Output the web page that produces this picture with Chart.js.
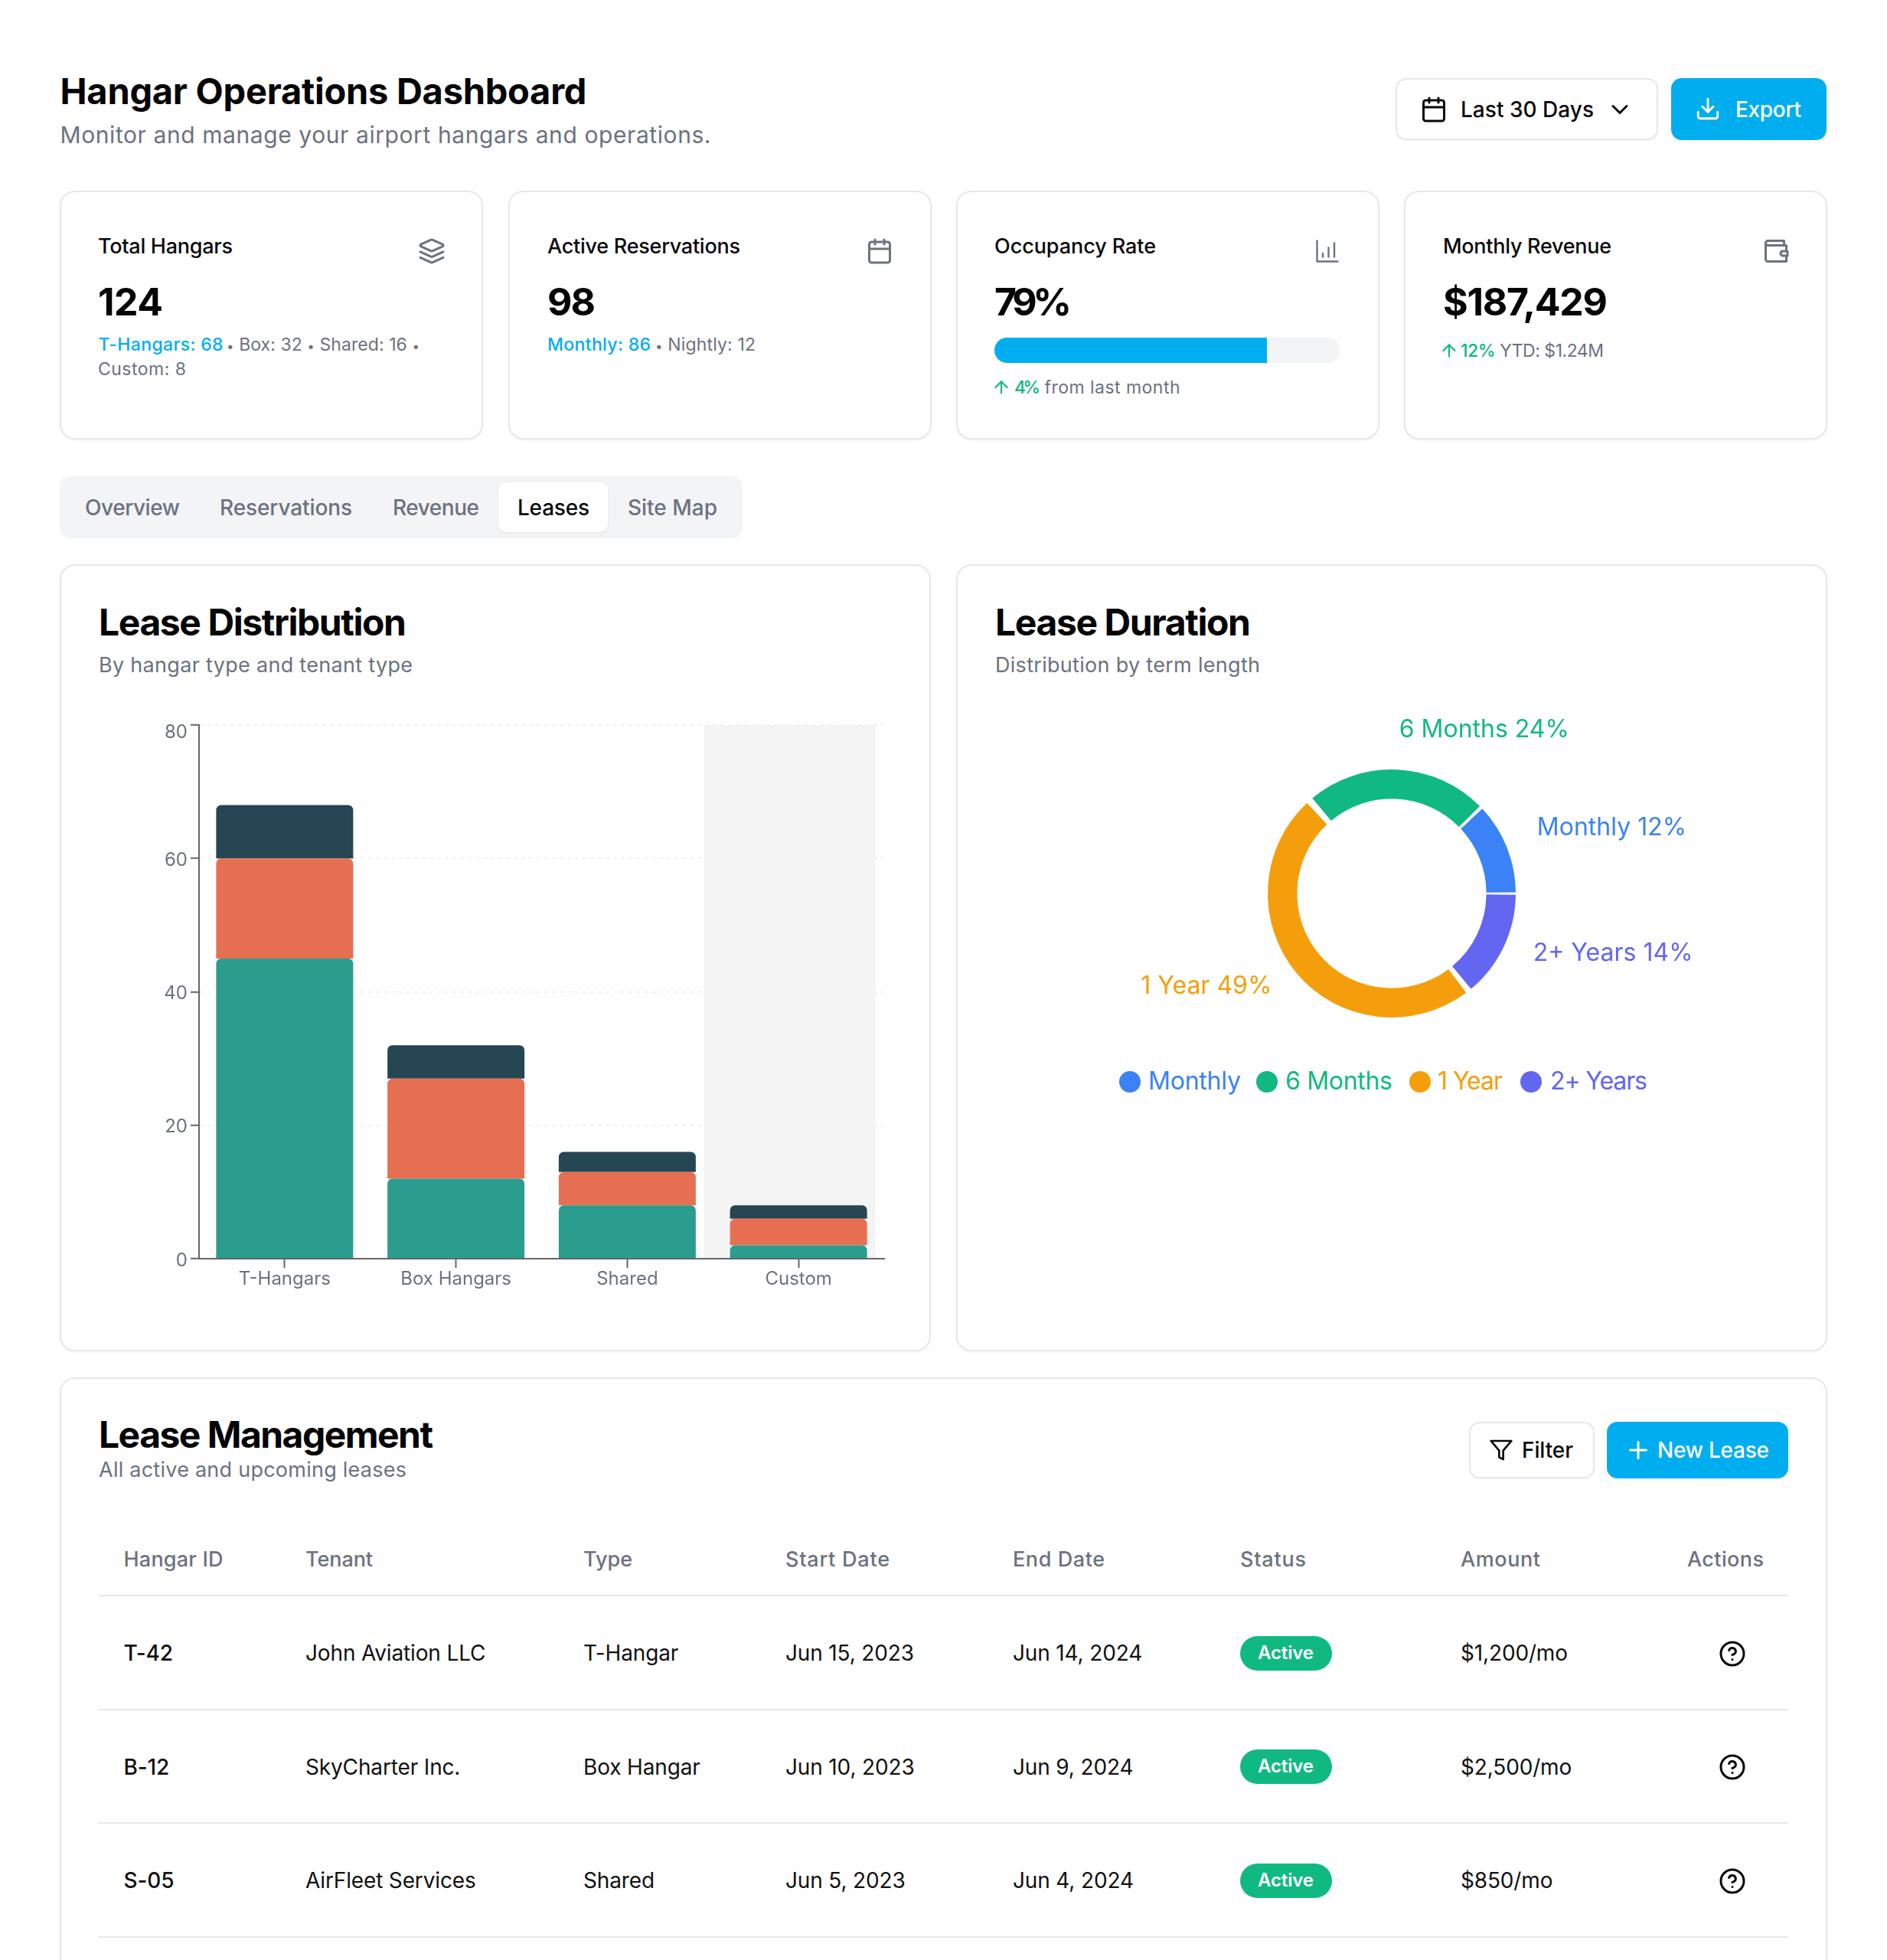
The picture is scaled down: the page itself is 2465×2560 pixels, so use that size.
<!DOCTYPE html>
<html>
<head>
<meta charset="utf-8">
<title>Hangar Operations Dashboard</title>
<script src="https://cdn.jsdelivr.net/npm/chart.js@4"></script>
<style>
    * { box-sizing: border-box; }
    html, body { margin: 0; padding: 0; background: #fff; }
    body { position: relative; width: 2465px; height: 2560px; overflow: hidden; font-family: Inter, sans-serif; color: #09090b; }
    .box { position: absolute; }
    .card { position: absolute; background: #fff; border: 2px solid #e7e8ea; border-radius: 20px; box-shadow: 0 1px 3px rgba(0,0,0,.06); }
    .btn { position: absolute; border-radius: 14px; }
    .btn.line { background: #fff; border: 2px solid #e7e8ea; box-shadow: 0 1px 2px rgba(0,0,0,.05); }
    .btn.blue { background: #00aeef; }
    .t { position: absolute; white-space: nowrap; line-height: 0; }
    .h1 { font-size: 47px; font-weight: 700; color: #050505; }
    .h2 { font-size: 48px; font-weight: 700; color: #050505; }
    .lead { font-size: 30px; color: #6b7280; }
    .sub { font-size: 27px; color: #6b7280; }
    .cardTitle { font-size: 27px; font-weight: 500; }
    .value { font-size: 50px; font-weight: 700; color: #050505; }
    .small { font-size: 23px; color: #6b7280; }
    .bullet { font-size: 17px; }
    .accent { color: #00aeef; font-weight: 500; }
    .up { color: #10b981; font-weight: 500; }
    .btnText { font-size: 28px; font-weight: 500; }
    .white { color: #fff; }
    .tab { font-size: 28px; font-weight: 500; color: #6b7280; }
    .tab.on { color: #09090b; }
    .th { font-size: 27px; font-weight: 500; color: #6b7280; }
    .td { font-size: 28px; color: #111; letter-spacing: -0.15px; }
    .td.id { font-weight: 500; }
    .badge { position: absolute; background: #10b981; border-radius: 23px; }
    .badgeText { font-size: 24px; font-weight: 600; color: #fff; }
    .rule { position: absolute; height: 2px; background: #e7e8ea; }
    .legendText { font-size: 32px; }
    .dot { position: absolute; width: 28px; height: 28px; border-radius: 50%; }
    canvas { position: absolute; }
</style>
</head>
<body>
<canvas id="leaseChart" width="1036" height="778" style="left:129px;top:922.5px;z-index:2"></canvas>
<canvas id="durationChart" width="800" height="480" style="left:1418px;top:926.6px;z-index:2"></canvas>

<script>
// Lease distribution (stacked bars)
const hangarTypes = ["T-Hangars", "Box Hangars", "Shared", "Custom"];
const corporateLeases = [45, 12, 8, 2];
const privateLeases = [15, 15, 5, 4];
const governmentLeases = [8, 5, 3, 2];
const leaseTicks = [0, 20, 40, 60, 80];
const highlightedType = "Custom";

// Lease duration (donut), percent of leases
const durationNames = ["Monthly", "6 Months", "1 Year", "2+ Years"];
const durationShare = [12, 24, 49, 14];
const durationColors = ["#3b82f6", "#10b981", "#f59e0b", "#6366f1"];

// Lease table
const tableHead = ["Hangar ID", "Tenant", "Type", "Start Date", "End Date", "Status", "Amount", "Actions"];
const hangarIds = ["T-42", "B-12", "S-05"];
const tenants = ["John Aviation LLC", "SkyCharter Inc.", "AirFleet Services"];
const leaseKinds = ["T-Hangar", "Box Hangar", "Shared"];
const startDates = ["Jun 15, 2023", "Jun 10, 2023", "Jun 5, 2023"];
const endDates = ["Jun 14, 2024", "Jun 9, 2024", "Jun 4, 2024"];
const amounts = ["$1,200/mo", "$2,500/mo", "$850/mo"];

/* ---------- page helpers ---------- */

const ICONS = {
    layers: '<path d="m12.83 2.18a2 2 0 0 0-1.66 0L2.6 6.08a1 1 0 0 0 0 1.83l8.58 3.91a2 2 0 0 0 1.66 0l8.58-3.9a1 1 0 0 0 0-1.83Z"/><path d="m22 17.65-9.17 4.16a2 2 0 0 1-1.66 0L2 17.65"/><path d="m22 12.65-9.17 4.16a2 2 0 0 1-1.66 0L2 12.65"/>',
    calendar: '<path d="M8 2v4"/><path d="M16 2v4"/><rect width="18" height="18" x="3" y="4" rx="2"/><path d="M3 10h18"/>',
    chart: '<path d="M3 3v18h18"/><path d="M13 17V9"/><path d="M18 17V5"/><path d="M8 17v-3"/>',
    wallet: '<path d="M21 12V7H5a2 2 0 0 1 0-4h14v4"/><path d="M3 5v14a2 2 0 0 0 2 2h16v-5"/><path d="M18 12a2 2 0 0 0 0 4h4v-4Z"/>',
    chevron: '<path d="m6 9 6 6 6-6"/>',
    download: '<path d="M21 15v4a2 2 0 0 1-2 2H5a2 2 0 0 1-2-2v-4"/><polyline points="7 10 12 15 17 10"/><line x1="12" x2="12" y1="15" y2="3"/>',
    filter: '<polygon points="22 3 2 3 10 12.46 10 19 14 21 14 12.46 22 3"/>',
    plus: '<path d="M5 12h14"/><path d="M12 5v14"/>',
    help: '<circle cx="12" cy="12" r="10"/><path d="M9.09 9a3 3 0 0 1 5.83 1c0 2-3 3-3 3"/><path d="M12 17h.01"/>',
    arrow: '<path d="m5 12 7-7 7 7"/><path d="M12 19V5"/>'
};

function box(cls, left, top, width, height, bg) {
    const el = document.createElement("div");
    el.className = cls;
    el.style.cssText = `left:${left}px;top:${top}px;width:${width}px;height:${height}px;` + (bg ? `background:${bg};` : "");
    document.body.appendChild(el);
    return el;
}

// x = left edge, y = baseline; width (optional) squeezes the text to the measured width
function put(x, y, html, cls, width) {
    const el = document.createElement("div");
    el.className = "t " + cls;
    el.innerHTML = html;
    document.body.appendChild(el);
    const size = parseFloat(getComputedStyle(el).fontSize);
    el.style.left = x + "px";
    el.style.top = (y - size * 0.364) + "px";
    if (width) {
        const extra = (width - el.getBoundingClientRect().width) / (el.textContent.length - 1);
        el.style.letterSpacing = extra + "px";
    }
    return el;
}

function icon(name, cx, cy, size, color, stroke) {
    const s = document.createElementNS("http://www.w3.org/2000/svg", "svg");
    s.setAttribute("viewBox", "0 0 24 24");
    s.setAttribute("fill", "none");
    s.setAttribute("stroke", color);
    s.setAttribute("stroke-width", stroke || 2);
    s.setAttribute("stroke-linecap", "round");
    s.setAttribute("stroke-linejoin", "round");
    s.style.cssText = `position:absolute;left:${cx - size / 2}px;top:${cy - size / 2}px;width:${size}px;height:${size}px;`;
    s.innerHTML = ICONS[name];
    document.body.appendChild(s);
}

const dot = '<span class="bullet">•</span>';

/* ---------- header ---------- */

put(78.5, 136, "Hangar Operations Dashboard", "h1", 688);
put(78.5, 187, "Monitor and manage your airport hangars and operations.", "lead", 850);

box("btn line", 1823, 102, 343, 81);
icon("calendar", 1873, 143, 36, "#09090b");
put(1908, 153, "Last 30 Days", "btnText", 174);
icon("chevron", 2116, 143, 36, "#09090b");

box("btn blue", 2183, 102, 203, 81);
icon("download", 2231, 142, 34, "#fff");
put(2267, 153, "Export", "btnText white", 86);

/* ---------- stat cards ---------- */

box("card", 78, 248.5, 553, 325);
box("card", 663.5, 248.5, 553, 325);
box("card", 1249, 248.5, 553, 325);
box("card", 1834, 248.5, 553, 325);

put(128, 332, "Total Hangars", "cardTitle", 176);
put(128, 412, "124", "value", 85);
put(128.5, 458, "T-Hangars: 68", "small accent", 163);
put(296, 458, `${dot} Box: 32 ${dot} Shared: 16 ${dot}`, "small", 252);
put(128, 490, "Custom: 8", "small", 115);
icon("layers", 563.5, 327.5, 36, "#6b7280");

put(715, 332, "Active Reservations", "cardTitle", 252);
put(715, 412, "98", "value", 63);
put(715, 458, "Monthly: 86", "small accent", 135);
put(856, 458, `${dot} Nightly: 12`, "small", 131);
icon("calendar", 1149, 327.5, 36, "#6b7280");

put(1299, 332, "Occupancy Rate", "cardTitle", 211);
put(1299, 412, "79%", "value", 101);
box("box", 1299, 441, 451, 33, "#f3f4f6").style.borderRadius = "17px";
box("box", 1299, 441, 356, 33, "#00aeef").style.borderRadius = "17px 0 0 17px";
icon("arrow", 1307.5, 506, 26, "#10b981");
put(1325, 514, "4%", "small up", 34);
put(1364.5, 514, "from last month", "small", 177);
icon("chart", 1734, 327.5, 36, "#6b7280", 1.6);

put(1885, 332, "Monthly Revenue", "cardTitle", 220);
put(1885, 412, "$187,429", "value", 215);
icon("arrow", 1893, 458, 26, "#10b981");
put(1908, 466, '<span class="up">12%</span> YTD: $1.24M', "small", 187);
icon("wallet", 2320, 327.5, 36, "#6b7280");

/* ---------- tabs ---------- */

box("box", 78, 622, 892, 81, "#f3f4f6").style.borderRadius = "14px";
const activeTab = box("box", 651, 630, 143, 65, "#fff");
activeTab.style.borderRadius = "10px";
activeTab.style.boxShadow = "0 1px 3px rgba(0,0,0,.08)";
put(111, 673.5, "Overview", "tab", 124);
put(287, 673.5, "Reservations", "tab", 173);
put(513, 673.5, "Revenue", "tab", 113);
put(676, 673.5, "Leases", "tab on", 94);
put(820, 673.5, "Site Map", "tab", 117);

/* ---------- chart cards ---------- */

box("card", 78, 736.5, 1138, 1028);
put(129, 830, "Lease Distribution", "h2", 402);
put(129, 879, "By hangar type and tenant type", "sub", 410);

box("card", 1249, 736.5, 1138, 1028);
put(1300, 830, "Lease Duration", "h2", 334);
put(1300, 879, "Distribution by term length", "sub", 346);

// legend for the donut
const legendDots = [1462, 1641, 1840.5, 1986];
const legendText = [1500, 1679, 1878, 2025];
const legendWidths = [121, 140, 85, 127];
durationNames.forEach((name, i) => {
    box("dot", legendDots[i], 1398.5, 28, 28, durationColors[i]);
    put(legendText[i], 1424, name, "legendText", legendWidths[i]).style.color = durationColors[i];
});

/* ---------- table card ---------- */

box("card", 78, 1799, 2309, 900);
put(129, 1891.5, "Lease Management", "h2", 437);
put(129, 1929.5, "All active and upcoming leases", "sub", 402);

box("btn line", 1919, 1857, 164, 74);
icon("filter", 1961, 1894, 32, "#09090b");
put(1988, 1904, "Filter", "btnText", 67);
box("btn blue", 2099, 1857, 237, 74);
icon("plus", 2140, 1894, 36, "#fff");
put(2165, 1904, "New Lease", "btnText white", 146);

const columnX = [161.5, 399, 762, 1026, 1323, 1620, 1908, 2204];
const headWidths = [130, 88, 64, 136, 120, 86, 104, 100];
tableHead.forEach((name, i) => put(columnX[i], 2046.5, name, "th", headWidths[i]));
box("rule", 128, 2082.5, 2208, 2);

hangarIds.forEach((id, i) => {
    const base = 2169.5 + i * 148.5;
    put(columnX[0], base, id, "td id");
    put(columnX[1], base, tenants[i], "td");
    put(columnX[2], base, leaseKinds[i], "td");
    put(columnX[3], base, startDates[i], "td");
    put(columnX[4], base, endDates[i], "td");
    box("badge", columnX[5], base - 33, 120, 45);
    put(columnX[5] + 23, base - 2, "Active", "badgeText", 73);
    put(columnX[6], base, amounts[i], "td");
    icon("help", 2263, base - 10, 36, "#09090b");
    box("rule", 128, base + 62, 2208, 2);
});

/* ---------- charts ---------- */

const axisColor = "#666";
const tickColor = "#6b7280";

// grey hover band behind the highlighted category
const hoverBand = {
    id: "hoverBand",
    beforeDatasetsDraw(chart) {
        const { ctx, scales: { x }, chartArea } = chart;
        const step = x.getPixelForValue(1) - x.getPixelForValue(0);
        const center = x.getPixelForValue(hangarTypes.indexOf(highlightedType));
        ctx.save();
        ctx.fillStyle = "#f4f4f4";
        ctx.fillRect(center - step / 2 - 11.5, chartArea.top, step, chartArea.height);
        ctx.restore();
    }
};

const topCorners = { topLeft: 6.5, topRight: 6.5, bottomLeft: 0, bottomRight: 0 };

new Chart(document.getElementById("leaseChart"), {
    type: "bar",
    data: {
        labels: hangarTypes,
        datasets: [
            { label: "Corporate", data: corporateLeases, backgroundColor: "#2a9d8f", borderRadius: topCorners },
            { label: "Private", data: privateLeases, backgroundColor: "#e76f51", borderRadius: topCorners },
            { label: "Government", data: governmentLeases, backgroundColor: "#264653", borderRadius: topCorners }
        ]
    },
    plugins: [hoverBand],
    options: {
        responsive: false,
        animation: false,
        layout: { padding: { top: 24, right: 10, left: 0, bottom: 0 } },
        datasets: { bar: { categoryPercentage: 0.8, barPercentage: 1 } },
        plugins: { legend: { display: false }, tooltip: { enabled: false } },
        scales: {
            x: {
                stacked: true,
                afterFit: (s) => { s.height = 57; },
                border: { color: axisColor, width: 2, z: 1 },
                grid: { offset: false, drawOnChartArea: false, tickLength: 12, tickColor: axisColor, tickWidth: 2 },
                ticks: { color: tickColor, padding: 0, maxRotation: 0, font: { family: "Inter", size: 24 } }
            },
            y: {
                stacked: true,
                min: 0,
                max: 80,
                afterFit: (s) => { s.width = 131; },
                afterBuildTicks: (s) => { s.ticks = leaseTicks.map((value) => ({ value })); },
                border: { color: axisColor, width: 2, dash: [5, 5], z: 1 },
                grid: { color: "#eeeeee", lineWidth: 1.6, tickLength: 11, tickColor: axisColor, tickWidth: 2, tickBorderDash: [] },
                ticks: {
                    color: tickColor,
                    padding: 4,
                    // an empty first line pushes the label down by half its line height,
                    // the top label sits further under its tick than the others
                    font: (ctx) => ({ family: "Inter", size: 24, lineHeight: ctx.tick && ctx.tick.value === 80 ? "20px" : "5px" }),
                    callback: (v) => ["", String(v)]
                }
            }
        }
    }
});

// labels outside the ring, placed from each slice's middle angle
const ringLabels = {
    id: "ringLabels",
    afterDatasetsDraw(chart) {
        const { ctx } = chart;
        const arcs = chart.getDatasetMeta(0).data;
        ctx.save();
        ctx.font = "32px Inter";
        ctx.textBaseline = "alphabetic";
        arcs.forEach((arc, i) => {
            const mid = (arc.startAngle + arc.endAngle) / 2;
            const r = arc.outerRadius + 46;
            const px = arc.x + Math.cos(mid) * r;
            const py = arc.y + Math.sin(mid) * r;
            ctx.fillStyle = chart.data.datasets[0].backgroundColor[i];
            ctx.textAlign = px > arc.x ? "left" : "right";
            ctx.fillText(`${chart.data.labels[i]} ${chart.data.datasets[0].data[i]}%`, px, py);
        });
        ctx.restore();
    }
};

// Chart.js sweeps clockwise, the reference sweeps the other way from 3 o'clock
new Chart(document.getElementById("durationChart"), {
    type: "doughnut",
    data: {
        labels: durationNames.slice().reverse(),
        datasets: [{
            data: durationShare.slice().reverse(),
            backgroundColor: durationColors.slice().reverse(),
            borderWidth: 0,
            spacing: 7
        }]
    },
    plugins: [ringLabels],
    options: {
        responsive: false,
        animation: false,
        rotation: 90,
        cutout: "75.8%",
        layout: { padding: { left: 238, right: 238, top: 78, bottom: 78 } },
        plugins: { legend: { display: false }, tooltip: { enabled: false } }
    }
});
</script>
</body>
</html>
